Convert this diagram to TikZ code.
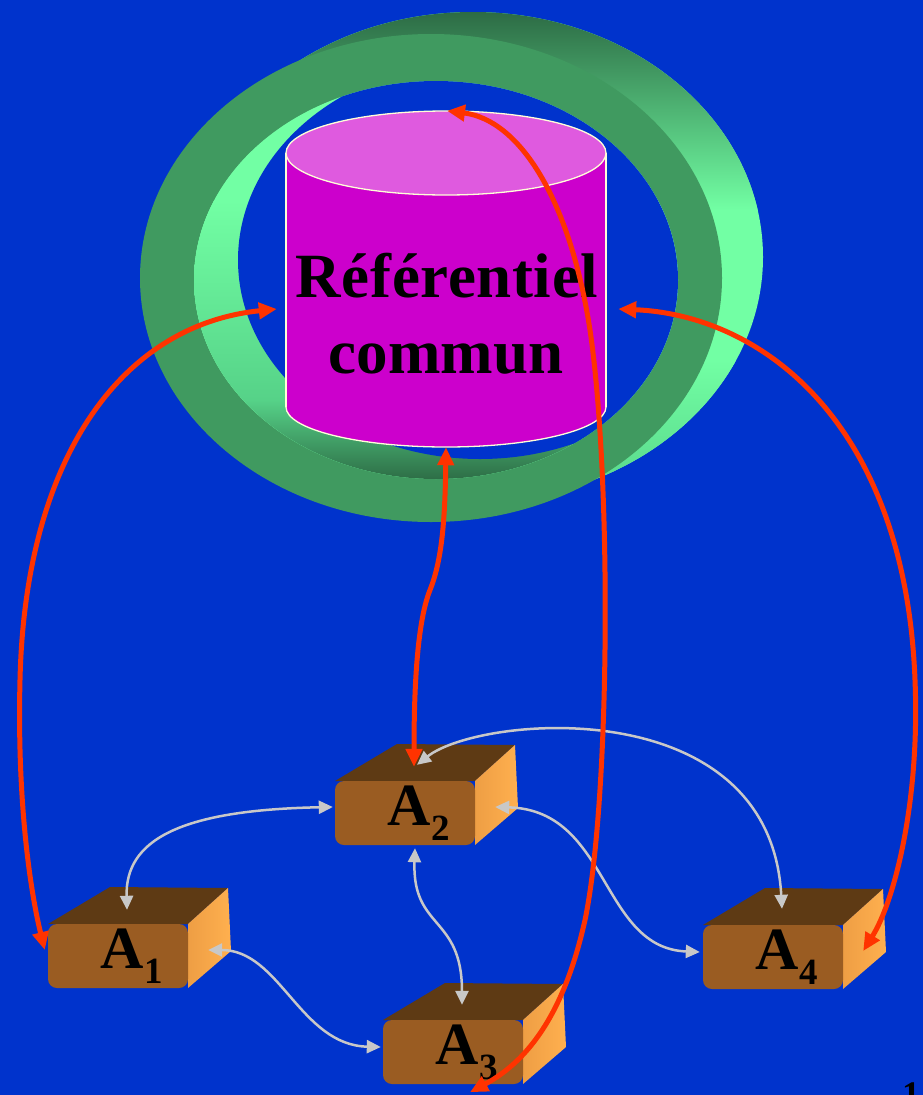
\documentclass[tikz,border=0pt]{standalone}
\usepackage{fontspec}
\setmainfont{Liberation Serif}
\usetikzlibrary{arrows.meta,calc}

\definecolor{bg}{HTML}{0033CC}
\definecolor{ringface}{HTML}{409A60}
\definecolor{ringdark}{HTML}{2C6A44}
\definecolor{ringlight}{HTML}{72FFA4}
\definecolor{ringmid}{HTML}{56D288}
\definecolor{cylbody}{HTML}{CC00CC}
\definecolor{cyltop}{HTML}{DF5ADF}
\definecolor{cylline}{HTML}{FFFFD8}
\definecolor{linkred}{HTML}{FF3300}
\definecolor{linkgray}{HTML}{C8C8C8}
\definecolor{boxfront}{HTML}{9A5C22}
\definecolor{boxtop}{HTML}{5E3A14}
\definecolor{boxside}{HTML}{FFB04F}
\definecolor{boxsidedark}{HTML}{EE9E44}

\newcommand\subfont{\fontsize{37}{37}\selectfont}

\tikzset{
  redlink/.style={draw=linkred, line width=5pt,
    {Triangle[length=18pt,width=16pt]}-{Triangle[length=18pt,width=16pt]}},
  graylink/.style={draw=linkgray, line width=2.5pt,
    {Triangle[length=14pt,width=13pt]}-{Triangle[length=14pt,width=13pt]}},
  boxface/.style={fill=boxfront, rounded corners=9pt, minimum width=140,
    minimum height=64, inner sep=0pt},
  agentlabel/.style={font=\fontsize{60}{60}\selectfont\bfseries, inner sep=0pt,
    anchor=base west},
  reftext/.style={font=\fontsize{63}{76}\selectfont\bfseries, inner sep=0pt,
    anchor=base},
}

% 3-D agent block: #1 name, #2 left edge, #3 top of front face, #4 index
\newcommand\agentbox[4]{%
  \fill[boxtop] (#2,#3) -- ({#2+62},{#3-37}) -- ({#2+180},{#3-36})
    -- ({#2+140},#3) -- cycle;
  \shade[left color=boxsidedark, right color=boxside] ({#2+140},#3)
    -- ({#2+180},{#3-36}) -- ({#2+183},{#3+27}) -- ({#2+140},{#3+64}) -- cycle;
  \node[boxface] (#1) at ({#2+70},{#3+32}) {};
  \node[agentlabel] (#1-label) at ($(#1.north west)+(52,45)$)
    {A\kern1pt\raisebox{-15pt}{\subfont #4}};
}

\begin{document}
\begin{tikzpicture}[x=1pt,y=-1pt]
  \useasboundingbox (0,0) rectangle (923,1095);
  \fill[bg] (0,0) rectangle (923,1095);

  % ring, outer side surface: dark along the top, light on the right
  \begin{scope}
    \clip (473,257) ellipse [x radius=290, y radius=245];
    \fill[ringlight] (150,0) rectangle (780,510);
    \shade[top color=ringdark, bottom color=ringlight] (150,10) rectangle (780,210);
    \shade[top color=ringlight, bottom color=ringmid] (150,360) rectangle (780,505);
  \end{scope}
  % ring, front face
  \fill[ringface, even odd rule]
    (431,278) ellipse [x radius=291, y radius=244]
    (436,280) ellipse [x radius=242, y radius=199];
  % ring, inner side surface: light on the left, shaded at the bottom
  \begin{scope}
    \clip (436,280) ellipse [x radius=242, y radius=199];
    \fill[ringlight] (190,75) rectangle (680,485);
    \shade[top color=ringlight, bottom color=ringmid] (190,200) rectangle (680,400);
    \shade[top color=ringmid, bottom color=ringdark] (190,400) rectangle (680,482);
    % hole through the ring
    \fill[bg] (480,260) ellipse [x radius=242, y radius=199];
  \end{scope}

  % cylinder
  \fill[cylbody] (446,407) ellipse [x radius=160, y radius=40];
  \fill[cylbody] (286,153) rectangle (606,407);
  \begin{scope}
    \clip (280,407) rectangle (612,452);
    \draw[cylline, line width=1.3pt] (446,407) ellipse [x radius=160, y radius=40];
  \end{scope}
  \draw[cylline, line width=1.3pt] (286,153) -- (286,407) (606,153) -- (606,407);
  \filldraw[fill=cyltop, draw=cylline, line width=1.3pt]
    (446,153) ellipse [x radius=160, y radius=42];
  \node[minimum width=320, minimum height=336, inner sep=0pt] (ref) at (446,279) {};
  \node[reftext] (ref-l1) at (447,297) {\addfontfeature{LetterSpace=1}Référentiel};
  \node[reftext] (ref-l2) at (446,373) {commun};

  % agents
  \agentbox{a1}{48}{924}{1}
  \agentbox{a2}{335}{781}{2}
  \agentbox{a3}{383}{1020}{3}
  \agentbox{a4}{703}{925}{4}

  % links between agents
  \draw[graylink] ($(a1.north)+(9,-14)$) .. controls (125,840) and (180,810)
    .. ($(a2.west)+(-2,-6)$);
  \draw[graylink] ($(a1.east)+(20,-6)$) .. controls (280,950) and (300,1045)
    .. ($(a3.west)+(-2,-5)$);
  \draw[graylink] ($(a2.south)+(10,3)$) .. controls (412,930) and (462,915)
    .. ($(a3.north)+(9,-15)$);
  \draw[graylink] ($(a2.east)+(20,-6)$) .. controls (610,810) and (600,948)
    .. ($(a4.west)+(-3,-5)$);
  \draw[graylink] ($(a2.north)+(12,-16)$) .. controls (480,715) and (770,690)
    .. ($(a4.north)+(9,-16)$);

  % links to the shared repository
  \draw[redlink] ($(ref.west)+(-9,30)$) .. controls (120,325) and (25,460)
    .. (20,680) .. controls (17,800) and (30,890) .. ($(a1.west)+(-3,-6)$);
  \draw[redlink] ($(ref.east)+(12,30)$) .. controls (760,315) and (905,420)
    .. (915,680) .. controls (920,800) and (895,900) .. ($(a4.east)+(20,-6)$);
  \draw[redlink] (ref.south) .. controls (445,520) and (442,560)
    .. (430,590) .. controls (418,620) and (414,680) .. ($(a2.north)+(9,-14)$);
  \draw[redlink] ($(ref.north)+(1,0)$) .. controls (520,120) and (570,200)
    .. (590,330) .. controls (612,480) and (610,800)
    .. (585,920) .. controls (565,1010) and (530,1060) .. ($(a3.south)+(17,8)$);

  % page number (runs off the lower edge of the page)
  \node[font=\fontsize{36}{36}\selectfont\bfseries, anchor=north, inner sep=0pt]
    (pageno) at (911,1083) {1};
\end{tikzpicture}
\end{document}
